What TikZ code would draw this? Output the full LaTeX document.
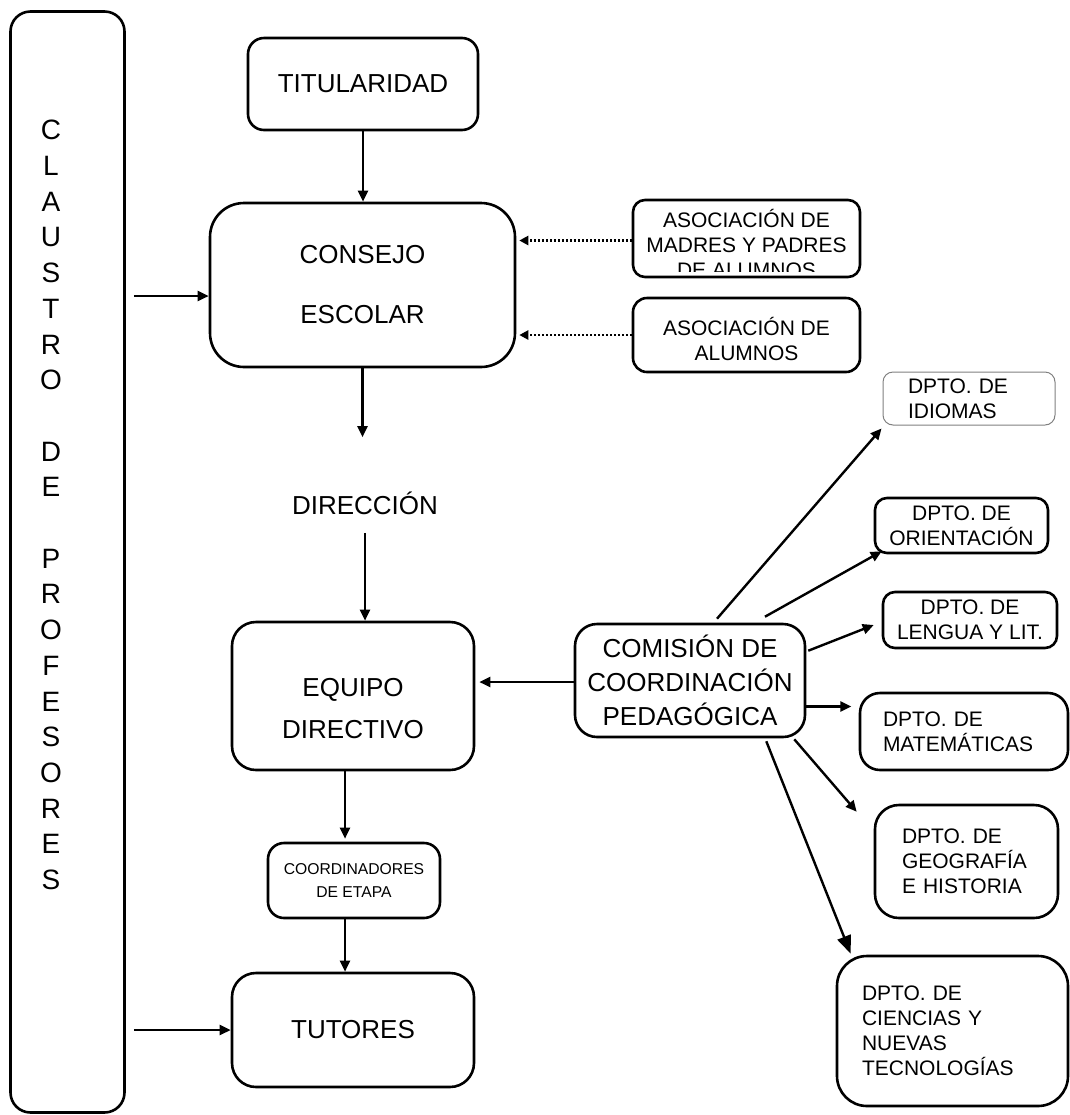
\documentclass[tikz,border=0pt]{standalone}
\usepackage{fontspec}
\setmainfont{Liberation Sans}
\usetikzlibrary{arrows.meta,calc}

\begin{document}
\begin{tikzpicture}[x=0.5pt,y=-0.5pt,
  caja/.style={draw,line width=1.3pt,rounded corners=#1,align=center,inner sep=0pt},
  caja/.default=8pt,
  flecha/.style={line width=1.2pt,-{Triangle[length=5.5pt,width=5pt]}},
  punteada/.style={line width=1.2pt,dash pattern=on 1pt off 1pt,-{Triangle[length=4.5pt,width=4.5pt]}},
  grande/.style={font=\fontsize{13}{17}\selectfont},
  chica/.style={font=\fontsize{10.5}{12.5}\selectfont}]
\useasboundingbox (0,0) rectangle (1070,1115);
% claustro
\node[caja=10pt,minimum width=57pt,minimum height=550.5pt] (claustro) at (67.5,562) {};
\node[inner sep=0pt,align=center,font=\fontsize{14}{17.85}\selectfont] (letras) at (51,505)
  {C\\L\\A\\U\\S\\T\\R\\O\\~\\D\\E\\~\\P\\R\\O\\F\\E\\S\\O\\R\\E\\S};
% columna central
\node[caja,grande,minimum width=115pt,minimum height=46pt] (tit) at (363,84) {TITULARIDAD};
\node[caja=17pt,minimum width=152.5pt,minimum height=82pt,font=\fontsize{13}{30}\selectfont] (consejo) at (362.5,285) {CONSEJO\\ESCOLAR};
\node[grande,inner sep=0pt] (direccion) at (365,503) {DIRECCIÓN};
\node[caja=12pt,minimum width=121pt,minimum height=74pt,font=\fontsize{13}{21}\selectfont] (equipo) at (353,696) {\rule{0pt}{22pt}EQUIPO\\DIRECTIVO};
\node[caja,minimum width=86pt,minimum height=37.5pt,font=\fontsize{7.85}{11.5}\selectfont] (coord) at (354,880.5) {COORDINADORES\\DE ETAPA};
\node[caja=12pt,grande,minimum width=121pt,minimum height=57pt] (tutores) at (353,1030) {TUTORES};
% asociaciones
\node[caja=6pt,minimum width=113.5pt,minimum height=38.5pt] (madres) at (746.5,238.5) {};
\begin{scope}
\clip (633,200) rectangle (860,271);
\node[chica,align=center,inner sep=0pt] (madrestxt) at (746.5,243) {ASOCIACIÓN DE\\MADRES Y PADRES\\DE ALUMNOS};
\end{scope}
\node[caja=7pt,chica,minimum width=113.5pt,minimum height=37pt] (alumnos) at (746.5,335) {\rule{0pt}{13.5pt}ASOCIACIÓN DE\\ALUMNOS};
% comision y departamentos
\node[caja=11pt,minimum width=115pt,minimum height=56.5pt,font=\fontsize{13}{17}\selectfont] (comision) at (690,680.5) {COMISIÓN DE\\COORDINACIÓN\\PEDAGÓGICA};
\node[caja=5pt,chica,draw=gray,line width=0.5pt,minimum width=86pt,minimum height=26.5pt,text width=61pt,align=left] (idiomas) at (969,398.5) {DPTO. DE\\IDIOMAS};
\node[caja=6pt,chica,minimum width=86.5pt,minimum height=27.5pt] (orientacion) at (961.5,525.5) {DPTO. DE\\ORIENTACIÓN};
\node[caja=6pt,chica,minimum width=87pt,minimum height=28pt] (lengua) at (970,620) {DPTO. DE\\LENGUA Y LIT.};
\node[caja=10pt,chica,minimum width=104pt,minimum height=38.5pt,text width=81pt,align=left] (matematicas) at (964,731.5) {DPTO. DE\\MATEMÁTICAS};
\node[caja=12pt,chica,minimum width=91.5pt,minimum height=56.5pt,text width=64.5pt,align=left] (geografia) at (966.5,861.5) {DPTO. DE\\GEOGRAFÍA\\E HISTORIA};
\node[caja=15pt,chica,minimum width=115.5pt,minimum height=75pt,text width=90.5pt,align=left] (ciencias) at (952.5,1031) {DPTO. DE\\CIENCIAS Y\\NUEVAS\\TECNOLOGÍAS};
% flechas
\draw[flecha] (tit.south) -- (tit.south |- consejo.north);
\draw[punteada,shorten >=1.5pt] ($(madres.west)+(0,2)$) -- ($(madres.west -| consejo.east)+(0,2)$);
\draw[punteada,shorten >=1.5pt] (alumnos.west) -- (alumnos.west -| consejo.east);
\draw[flecha,shorten <=4pt] (claustro.east |- {$(consejo.west)+(0,11)$}) -- ($(consejo.west)+(0,11)$);
\draw[flecha,shorten >=27pt] (consejo.south) -- (consejo.south |- direccion.north);
\draw[flecha,shorten <=9pt] (direccion.south) -- (direccion.south |- equipo.north);
\draw[flecha,shorten >=1.5pt] ($(equipo.south)+(-8,0)$) -- ($(coord.north)+(-9,0)$);
\draw[flecha] ($(coord.south)+(-9,0)$) -- ($(tutores.north)+(-8,0)$);
\draw[flecha,shorten <=4pt] (claustro.east |- tutores.west) -- (tutores.west);
\draw[flecha,shorten >=2pt] ($(comision.west)+(0,1.5)$) -- ($(comision.west -| equipo.east)+(0,1.5)$);
\draw[flecha] ($(comision.north)+(27,-4)$) -- ($(idiomas.south west)+(-1,3)$);
\draw[flecha] ($(comision.north)+(75,-6)$) -- ($(orientacion.south west)+(8,-3)$);
\draw[flecha] ($(comision.north east)+(2,28)$) -- ($(lengua.west)+(-8,5)$);
\draw[flecha] ($(comision.east)+(-2,26)$) -- ($(comision.east)+(45,26)$);
\draw[flecha] ($(comision.south east)+(-12,1)$) -- ($(geografia.north west)+(-17,8)$);
\draw[line width=1.2pt,-{Triangle[length=9pt,width=7pt]}] ($(comision.south east)+(-40,3)$) -- ($(ciencias.north west)+(15,-1)$);
\end{tikzpicture}
\end{document}
